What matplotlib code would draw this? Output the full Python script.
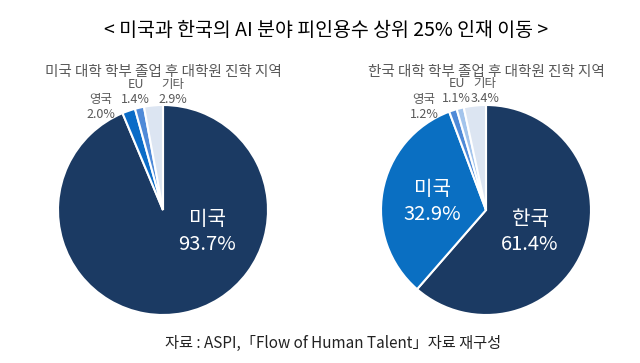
import matplotlib.pyplot as plt

plt.rcParams['font.family'] = ['Noto Sans CJK KR', 'DejaVu Sans']

# 데이터
title = "< 미국과 한국의 AI 분야 피인용수 상위 25% 인재 이동 >"
source = "자료 : ASPI,「Flow of Human Talent」자료 재구성"

us_title = "미국 대학 학부 졸업 후 대학원 진학 지역"
us_labels = ["미국", "영국", "EU", "기타"]
us_values = [93.7, 2.0, 1.4, 2.9]
us_colors = ["#1b3a63", "#0b6cc7", "#4f8ad8", "#dce5f2"]

kr_title = "한국 대학 학부 졸업 후 대학원 진학 지역"
kr_labels = ["한국", "미국", "영국", "EU", "기타"]
kr_values = [61.4, 32.9, 1.2, 1.1, 3.4]
kr_colors = ["#1b3a63", "#0a6fc2", "#4f8ad8", "#a3c4ec", "#dce5f2"]

gray = "#595959"


def draw_pie(ax, values, colors, labels, big_pos, small_pos):
    ax.pie(values, colors=colors, startangle=90, counterclock=False,
           wedgeprops=dict(edgecolor="white", linewidth=1.5))
    ax.set_xlim(-1, 1)
    ax.set_ylim(-1, 1)
    ax.set_aspect("equal")
    for i, (lab, val) in enumerate(zip(labels, values)):
        if i in big_pos:
            x, y = big_pos[i]
            ax.text(x, y, f"{lab}\n{val:.1f}%", color="white", fontsize=14.5,
                    fontweight="medium", ha="center", va="center",
                    linespacing=1.25)
        else:
            x, y = small_pos[i]
            ax.text(x, y, f"{lab}\n{val:.1f}%", color=gray, fontsize=9,
                    ha="center", va="center", linespacing=1.2, clip_on=False)


fig = plt.figure(figsize=(6.4, 3.63), dpi=100)
fig.text(326 / 640, 1 - 30 / 363, title, ha="center", va="center",
         fontsize=14, fontweight="medium")
fig.text(163 / 640, 1 - 72 / 363, us_title, ha="center", va="center",
         fontsize=10.5, color=gray)
fig.text(486 / 640, 1 - 72 / 363, kr_title, ha="center", va="center",
         fontsize=10.5, color=gray)
fig.text(333 / 640, 1 - 343 / 363, source, ha="center", va="center",
         fontsize=11, color="#222222")

r_w = 210 / 640
r_h = 210 / 363
ax1 = fig.add_axes([58 / 640, 1 - 315 / 363, r_w, r_h])
draw_pie(ax1, us_values, us_colors, us_labels,
         big_pos={0: (0.42, -0.21)},
         small_pos={1: (-0.59, 0.98), 2: (-0.26, 1.12), 3: (0.09, 1.12)})

ax2 = fig.add_axes([381 / 640, 1 - 315 / 363, r_w, r_h])
draw_pie(ax2, kr_values, kr_colors, kr_labels,
         big_pos={0: (0.42, -0.21), 1: (-0.51, 0.08)},
         small_pos={2: (-0.59, 0.98), 3: (-0.28, 1.13), 4: (-0.01, 1.13)})

fig.savefig("out.png", dpi=100)
